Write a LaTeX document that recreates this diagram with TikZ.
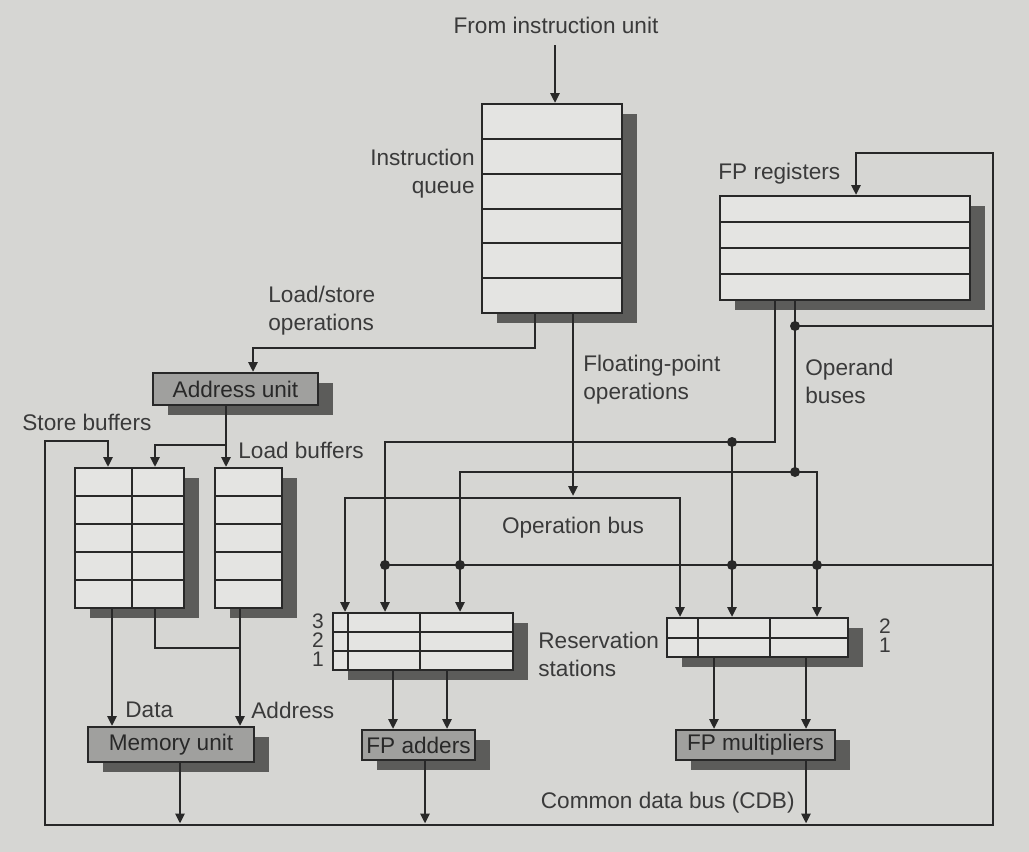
\documentclass[tikz,border=0pt]{standalone}
\usepackage{fontspec}
\setmainfont{Liberation Sans}
\usetikzlibrary{arrows.meta,fit}
\definecolor{bg}{RGB}{214,214,211}
\definecolor{boxfill}{RGB}{228,228,226}
\definecolor{unitfill}{RGB}{160,160,158}
\definecolor{shadowc}{RGB}{92,92,90}
\definecolor{ink}{RGB}{40,40,40}
\definecolor{txt}{RGB}{58,58,58}
\newcommand\shbox[6]{%
  \fill[shadowc] ([shift={(15,10)}]#2,#3) rectangle ([shift={(15,10)}]#4,#5);
  \node[draw=ink, line width=1pt, fill=#6, inner sep=0pt, fit={(#2,#3)(#4,#5)}] (#1) {};
}
\begin{document}
\begin{tikzpicture}[x=0.5pt,y=-0.5pt,
  lbl/.style={text=txt, font=\fontsize{11.3}{14}\selectfont, inner sep=0pt},
  ulbl/.style={text=ink, font=\fontsize{11.3}{14}\selectfont, inner sep=0pt},
  nums/.style={text=txt, font=\fontsize{10.5}{9.6}\selectfont, inner sep=0pt, align=center},
  row/.style={draw=ink, line width=1pt},
  bus/.style={draw=ink, line width=1.35pt},
  arr/.style={bus, -{Triangle[length=5pt,width=4.5pt]}},
  jdot/.style={circle, fill=ink, inner sep=0pt, minimum size=5pt},
  ]
\fill[bg] (0,0) rectangle (1029,852);
\useasboundingbox (0,0) rectangle (1029,852);

% ---------- boxes ----------
\shbox{iq}{482}{104}{622}{313}{boxfill}
\foreach \yy in {139,174,209,243,278} \draw[row] (482,\yy) -- (622,\yy);

\shbox{fpr}{720}{196}{970}{300}{boxfill}
\foreach \yy in {222,248,274} \draw[row] (720,\yy) -- (970,\yy);

\shbox{au}{153}{373}{318}{405}{unitfill}

\shbox{sb}{75}{468}{184}{608}{boxfill}
\foreach \yy in {496,524,552,580} \draw[row] (75,\yy) -- (184,\yy);
\draw[row] (132,468) -- (132,608);

\shbox{lb}{215}{468}{282}{608}{boxfill}
\foreach \yy in {496,524,552,580} \draw[row] (215,\yy) -- (282,\yy);

\shbox{mu}{88}{727}{254}{762}{unitfill}

\shbox{rsa}{333}{613}{513}{670}{boxfill}
\foreach \yy in {632,651} \draw[row] (333,\yy) -- (513,\yy);
\foreach \xx in {348,420} \draw[row] (\xx,613) -- (\xx,670);

\shbox{rsm}{667}{618}{848}{657}{boxfill}
\draw[row] (667,638) -- (848,638);
\foreach \xx in {698,770} \draw[row] (\xx,618) -- (\xx,657);

\shbox{fpa}{362}{730}{475}{760}{unitfill}
\shbox{fpm}{676}{730}{835}{760}{unitfill}

% ---------- named points ----------
\coordinate (fromiu) at (555,45);
\coordinate (lsbend) at (535,348);
\coordinate (aubr) at (226,445);
\coordinate (sbtop) at (108,441);
\coordinate (cdbtop) at (856,153);
\coordinate (cdbbl) at (45,825);
\coordinate (cdbbr) at (993,825);
\coordinate (mujoin) at (240,648);
\coordinate (opA) at (775,442);
\coordinate (opAj) at (732,442);
\coordinate (opB) at (795,472);
\coordinate (opBj) at (795,326);
\coordinate (opbus) at (573,498);
\coordinate (cdbmidL) at (385,565);
\coordinate (cdbmidR) at (993,565);

% ---------- connectors ----------
\draw[arr] (fromiu) -- (fromiu |- iq.north);
\draw[arr] (535,0 |- iq.south) -- (lsbend) -- (253,348) -- (253,0 |- au.north);
\draw[arr] (573,0 |- iq.south) -- ([yshift=1pt]opbus);

\draw[bus] (226,0 |- au.south) -- (aubr);
\draw[arr] (aubr) -| (155,0 |- sb.north);
\draw[arr] (aubr) -- (226,0 |- lb.north);

% common data bus loop
\draw[arr] (cdbtop) -| (cdbbr) -| (cdbbl) |- (sbtop) -- (108,0 |- sb.north);
\draw[arr] (993,153) -- (cdbtop) -- (856,0 |- fpr.north);

% memory
\draw[arr] (112,0 |- sb.south) -- (112,0 |- mu.north);
\draw[arr] (240,0 |- lb.south) -- (240,0 |- mu.north);
\draw[bus] (155,0 |- sb.south) |- (mujoin);
\draw[arr] (180,0 |- mu.south) -- (180,823.5);

% operand buses
\draw[arr] (775,0 |- fpr.south) -- (opA) -- (385,442) -- (385,0 |- rsa.north);
\draw[arr] (opAj) -- (732,0 |- rsm.north);
\draw[arr] (795,0 |- fpr.south) -- (opB) -| (460,0 |- rsa.north);
\draw[arr] (opB) -| (817,0 |- rsm.north);
\draw[bus] (opBj) -- (993,326);

% operation bus
\draw[arr] (opbus) -| (345,0 |- rsa.north);
\draw[arr] (opbus) -| (680,0 |- rsm.north);

% CDB to reservation stations
\draw[bus] (cdbmidL) -- (cdbmidR);

% junction dots
\foreach \p in {(385,565),(460,565),(732,565),(817,565),(732,442),(795,472),(795,326)}
  \node[jdot] at \p {};

% functional units
\draw[arr] (393,0 |- rsa.south) -- (393,0 |- fpa.north);
\draw[arr] (447,0 |- rsa.south) -- (447,0 |- fpa.north);
\draw[arr] (425,0 |- fpa.south) -- (425,823.5);
\draw[arr] (714,0 |- rsm.south) -- (714,0 |- fpm.north);
\draw[arr] (806,0 |- rsm.south) -- (806,0 |- fpm.north);
\draw[arr] (806,0 |- fpm.south) -- (806,823.5);

% ---------- texts ----------
\node[lbl] (t1) at (556,25) {From instruction unit};
\node[lbl, anchor=east, align=right] (t2) at (475,174) {Instruction\\queue};
\node[lbl, anchor=west, align=left] (t3) at (268,311) {Load/store\\operations};
\node[ulbl] (t4) at (au.center) {Address unit};
\node[lbl, anchor=west] (t5) at (22,422) {Store buffers};
\node[lbl, anchor=west] (t6) at (238,450) {Load buffers};
\node[lbl, anchor=west, align=left] (t7) at (583,380) {Floating-point\\operations};
\node[lbl, anchor=west, align=left] (t8) at (805,381) {Operand\\buses};
\node[lbl, anchor=west] (t9) at (718,174) {FP registers};
\node[lbl] (t10) at (573,528) {Operation bus};
\node[nums] (rsanums) at (318,640) {3\\2\\1};
\node[lbl, anchor=west, align=left] (t11) at (538,654) {Reservation\\stations};
\node[nums] (rsmnums) at (885,636) {2\\1};
\node[lbl, anchor=west] (t12) at (125,710) {Data};
\node[lbl, anchor=west] (t13) at (251,710) {Address};
\node[ulbl] (t14) at (mu.center) {Memory unit};
\node[ulbl] (t15) at (fpa.center) {FP adders};
\node[ulbl] (t16) at (fpm.center) {FP multipliers};
\node[lbl, anchor=east] (t17) at (795,803) {Common data bus (CDB)};
\end{tikzpicture}
\end{document}
